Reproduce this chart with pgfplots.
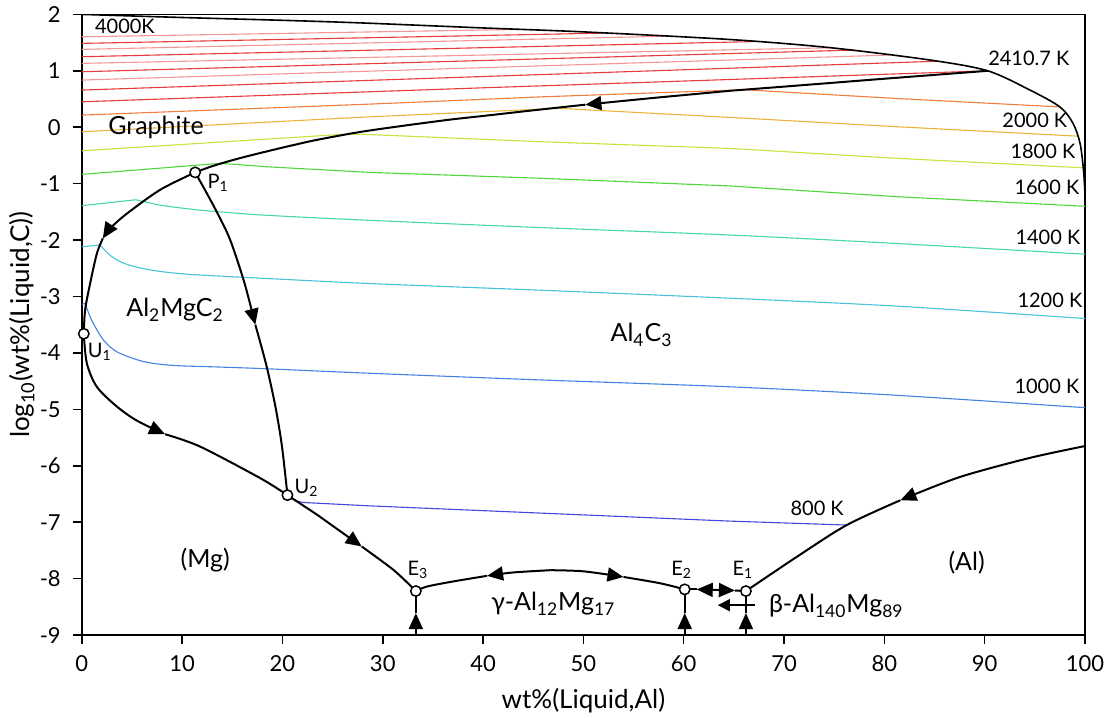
\documentclass[border=0pt]{standalone}
\usepackage{fontspec}
\setmainfont{Lato}
\usepackage{pgfplots}
\pgfplotsset{compat=1.18}
\usetikzlibrary{arrows.meta}

\definecolor{rlight}{RGB}{244,150,150}
\definecolor{rdark}{RGB}{232,60,60}
\definecolor{k2200}{RGB}{240,125,60}
\definecolor{k2000}{RGB}{236,180,60}
\definecolor{k1800}{RGB}{205,225,60}
\definecolor{k1600}{RGB}{80,215,60}
\definecolor{k1400}{RGB}{70,215,170}
\definecolor{k1200}{RGB}{70,195,215}
\definecolor{k1000}{RGB}{70,130,225}
\definecolor{k800}{RGB}{70,70,225}

\tikzset{
  bnd/.style={black, line width=1pt},
  arr/.style={-{Triangle[length=8pt,width=7pt]}},
  iso/.style={line width=0.55pt},
  lab/.style={font=\fontsize{10}{11}\selectfont},
  reg/.style={font=\fontsize{12.5}{14}\selectfont},
}

\begin{document}
\begin{tikzpicture}
\begin{axis}[
    name=ax,
    scale only axis,
    width=501.7pt, height=310.4pt,
    xmin=0, xmax=100, ymin=-9, ymax=2,
    xtick={0,10,...,100},
    ytick={-9,-8,...,2},
    tick align=outside,
    major tick length=4.5pt,
    xtick pos=bottom, ytick pos=left,
    axis line style={line width=0.75pt},
    every tick/.style={black, line width=0.75pt},
    tick label style={font=\fontsize{11}{12}\selectfont},
    xticklabel style={yshift=-2pt},
    yticklabel style={xshift=-2.5pt},
    /pgf/number format/assume math mode=true,
    no markers,
]

% ---- isotherms in the graphite field (4000 K ... 2400 K) ----
\addplot[iso, rlight] coordinates {(0,1.603) (20,1.663) (43.5,1.733)};
\addplot[iso, rdark]  coordinates {(0,1.486) (25,1.574) (52,1.668)};
\addplot[iso, rlight] coordinates {(0,1.380) (30,1.500) (58,1.612)};
\addplot[iso, rdark]  coordinates {(0,1.250) (30,1.370) (67,1.518)};
\addplot[iso, rlight] coordinates {(0,1.132) (40,1.280) (74.5,1.408)};
\addplot[iso, rdark]  coordinates {(0,0.983) (40,1.183) (77,1.368)};
\addplot[iso, rlight] coordinates {(0,0.836) (40,1.056) (80.5,1.279)};
\addplot[iso, rdark]  coordinates {(0,0.659) (40,0.899) (85.3,1.170)};
\addplot[iso, rdark]  coordinates {(0,0.451) (40,0.699) (90.3,1.000)};
% ---- 2200 K ----
\addplot[iso, k2200] coordinates {(0,0.215) (28.7,0.41) (46,0.54) (66,0.665) (81.2,0.51) (97.5,0.36)};
% ---- 2000 K ----
\addplot[iso, k2000] coordinates {(0,-0.08) (28.7,0.185) (47.5,0.335) (64.6,0.175) (81.2,0.01) (99.2,-0.157)};
% ---- 1800 K ----
\addplot[iso, k1800] coordinates {(0,-0.417) (26.5,-0.12) (28.7,-0.13) (46,-0.258) (64.6,-0.375) (81.2,-0.55) (99.9,-0.72)};
% ---- 1600 K ----
\addplot[iso, k1600] coordinates {(0,-0.835) (13.8,-0.64) (18.4,-0.70) (28.7,-0.80) (46,-0.906) (64.6,-1.04) (81.2,-1.23) (100,-1.40)};
% ---- 1400 K ----
\addplot[iso, k1400] coordinates {(0,-1.39) (5.4,-1.285)};
\addplot[iso, k1400, smooth] coordinates {(5.4,-1.285) (7.8,-1.38) (11.1,-1.456) (13.8,-1.50) (18.4,-1.56) (28.7,-1.65) (46,-1.78) (64.6,-1.91) (81.2,-2.06) (100,-2.25)};
% ---- 1200 K ----
\addplot[iso, k1200] coordinates {(0,-2.12) (1.82,-2.085)};
\addplot[iso, k1200, smooth] coordinates {(1.82,-2.085) (2.3,-2.18) (2.9,-2.28) (3.6,-2.36) (4.5,-2.43) (6,-2.50) (7.8,-2.555) (10.5,-2.605) (13.8,-2.638) (18.4,-2.68) (28.7,-2.77) (46,-2.89) (64.6,-3.03) (81.2,-3.17) (100,-3.39)};
% ---- 1000 K ----
\addplot[iso, k1000] coordinates {(0,-3.14) (0.33,-3.12)};
\addplot[iso, k1000, smooth] coordinates {(0.33,-3.12) (0.7,-3.30) (1.16,-3.48) (2.16,-3.77) (3.5,-3.98) (6.1,-4.15) (9,-4.22) (13.8,-4.25) (18.4,-4.28) (28.7,-4.36) (46,-4.48) (64.6,-4.6) (81.2,-4.75) (100,-4.97)};
% ---- 800 K ----
\addplot[iso, k800] coordinates {(21.2,-6.62) (22.1,-6.65) (28.7,-6.71) (64.6,-6.98) (76.25,-7.05)};

% ---- graphite liquidus (top curve) ----
\addplot[black, line width=0.8pt, smooth] coordinates {
  (0,2.0) (10,1.945) (20,1.895) (27.7,1.85) (40,1.76) (50,1.69) (64.6,1.555)
  (74.6,1.41) (84.6,1.19) (90.3,1.0) (94.5,0.66) (97.5,0.36) (98.8,0.07)
  (99.5,-0.28) (99.85,-0.76) (100,-1.2)};

% ---- univariant lines ----
% 2410.7 K -> P1
\addplot[bnd, arr] coordinates {(90.3,1.0) (80,0.86) (70,0.72) (64.6,0.646) (57,0.52) (50.2,0.40)};
\addplot[bnd, smooth] coordinates {(50.2,0.40) (45,0.30) (40,0.20) (36.7,0.135) (32,0.025) (27.7,-0.085) (23.4,-0.225) (21,-0.32) (18.4,-0.43) (15.5,-0.56) (13.0,-0.69) (11.3,-0.80)};
% P1 -> U1
\addplot[bnd, arr, smooth] coordinates {(11.3,-0.80) (7.8,-1.11) (4.5,-1.53) (2.9,-1.78) (2.1,-1.97)};
\addplot[bnd, smooth] coordinates {(2.1,-1.97) (1.5,-2.24) (0.83,-2.77) (0.33,-3.24) (0.2,-3.66)};
% P1 -> U2
\addplot[bnd, arr, smooth] coordinates {(11.3,-0.80) (12.4,-1.15) (13.6,-1.55) (14.8,-2.0) (16.2,-2.75) (17.3,-3.5)};
\addplot[bnd, smooth] coordinates {(17.3,-3.5) (18.4,-4.22) (19.3,-4.95) (19.95,-5.65) (20.5,-6.52)};
% U1 -> U2
\addplot[bnd, arr, smooth] coordinates {(0.2,-3.66) (0.5,-4.18) (1.5,-4.6) (3.5,-4.95) (5.5,-5.2) (8.3,-5.44)};
\addplot[bnd, smooth] coordinates {(8.3,-5.44) (11.8,-5.66) (17.8,-6.22) (20.5,-6.52)};
% U2 -> E3
\addplot[bnd, arr] coordinates {(20.5,-6.52) (23.4,-6.86) (27.9,-7.43)};
\addplot[bnd, smooth] coordinates {(27.9,-7.43) (31.1,-7.85) (33.3,-8.22)};
% saddle -> E3 and E2
\addplot[bnd, arr, smooth] coordinates {(46.7,-7.85) (43,-7.89) (40.4,-7.95)};
\addplot[bnd, smooth] coordinates {(40.4,-7.95) (37,-8.05) (34.4,-8.14) (33.3,-8.22)};
\addplot[bnd, arr, smooth] coordinates {(46.7,-7.85) (50,-7.87) (54.0,-7.97)};
\addplot[bnd, smooth] coordinates {(54.0,-7.97) (57.6,-8.08) (60.1,-8.19)};
% E2 <- -> E1
\addplot[bnd, arr] coordinates {(63.2,-8.20) (61.3,-8.19)};
\addplot[bnd] coordinates {(61.3,-8.19) (60.1,-8.19)};
\addplot[bnd, arr] coordinates {(63.2,-8.20) (65.1,-8.21)};
\addplot[bnd] coordinates {(65.1,-8.21) (66.2,-8.22)};
% (Al) -> E1
\addplot[bnd, arr, smooth] coordinates {(100,-5.65) (94.5,-5.86) (87.5,-6.2) (81.6,-6.61)};
\addplot[bnd, smooth] coordinates {(81.6,-6.61) (76.25,-7.05) (71.3,-7.61) (66.2,-8.22)};
% binary eutectics
\addplot[bnd, arr] coordinates {(33.3,-9) (33.3,-8.61)};
\addplot[bnd] coordinates {(33.3,-8.61) (33.3,-8.22)};
\addplot[bnd, arr] coordinates {(60.1,-9) (60.1,-8.61)};
\addplot[bnd] coordinates {(60.1,-8.61) (60.1,-8.19)};
\addplot[bnd, arr] coordinates {(66.2,-9) (66.2,-8.61)};
\addplot[bnd] coordinates {(66.2,-8.61) (66.2,-8.22)};
\addplot[black, line width=0.75pt, -{Triangle[length=6pt,width=6pt]}] coordinates {(67.1,-8.47) (63.4,-8.47)};

% ---- invariant points ----
\addplot[only marks, mark=*, mark size=2.6pt,
  mark options={fill=white, draw=black, line width=0.75pt}]
  coordinates {(11.3,-0.80) (0.2,-3.66) (20.5,-6.52) (33.3,-8.22) (60.1,-8.19) (66.2,-8.22)};

% ---- labels ----
\node[lab] at (axis cs:13.6,-0.99) {P\textsubscript{1}};
\node[lab] at (axis cs:1.8,-3.98) {U\textsubscript{1}};
\node[lab] at (axis cs:22.4,-6.39) {U\textsubscript{2}};
\node[lab] at (axis cs:33.5,-7.85) {E\textsubscript{3}};
\node[lab] at (axis cs:59.8,-7.85) {E\textsubscript{2}};
\node[lab] at (axis cs:65.9,-7.84) {E\textsubscript{1}};

\node[lab] at (axis cs:4.3,1.78) {4000K};
\node[lab] at (axis cs:94.4,1.22) {2410.7 K};
\node[lab] at (axis cs:95.0,0.13) {2000 K};
\node[lab] at (axis cs:95.8,-0.43) {1800 K};
\node[lab] at (axis cs:96.2,-1.06) {1600 K};
\node[lab] at (axis cs:96.3,-1.95) {1400 K};
\node[lab] at (axis cs:96.5,-3.07) {1200 K};
\node[lab] at (axis cs:96.2,-4.60) {1000 K};
\node[lab] at (axis cs:73.3,-6.75) {800 K};

\node[reg] at (axis cs:7.4,0.0) {Graphite};
\node[reg] at (axis cs:9.3,-3.24) {Al\textsubscript{2}MgC\textsubscript{2}};
\node[reg] at (axis cs:55.8,-3.68) {Al\textsubscript{4}C\textsubscript{3}};
\node[reg] at (axis cs:12.3,-7.67) {(Mg)};
\node[reg] at (axis cs:88.2,-7.72) {(Al)};
\node[reg] at (axis cs:47.0,-8.45) {γ-Al\textsubscript{12}Mg\textsubscript{17}};
\node[reg, anchor=west] at (axis cs:67.8,-8.48) {β-Al\textsubscript{140}Mg\textsubscript{89}};
\end{axis}
\node[font=\fontsize{13}{15}\selectfont] at ([yshift=-33pt]ax.south) {wt\%(Liquid,Al)};
\node[font=\fontsize{13}{15}\selectfont, rotate=90] at ([xshift=-30pt]ax.west) {log\textsubscript{10}(wt\%(Liquid,C))};
\pgfresetboundingbox
\path[use as bounding box] ([xshift=-40.9pt,yshift=-41pt]ax.south west) rectangle ([xshift=11.5pt,yshift=7.2pt]ax.north east);
\end{tikzpicture}
\end{document}
